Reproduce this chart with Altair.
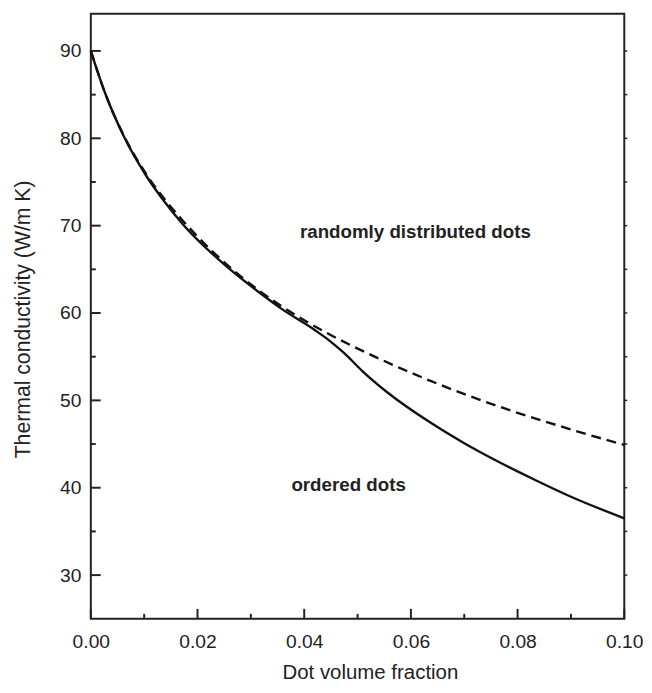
import altair as alt
import pandas as pd

# ---- data ----
ordered_x = [0, 0.0026, 0.0062, 0.0105, 0.014, 0.0172, 0.0255, 0.0319, 0.0357, 0.0421,
             0.0446, 0.0475, 0.051, 0.0555, 0.0638, 0.07, 0.0765, 0.083, 0.09, 0.1]
ordered_y = [90, 85.3, 80.2, 75.6, 72.6, 70.2, 65.3, 62.2, 60.5, 58.0,
             56.9, 55.4, 53.3, 50.96, 47.4, 45.1, 42.95, 40.97, 38.97, 36.5]

random_x = [0, 0.0026, 0.0062, 0.0105, 0.014, 0.0172, 0.0281, 0.0357, 0.0446, 0.0529,
            0.0638, 0.0765, 0.0893, 0.1]
random_y = [90, 85.3, 80.3, 75.8, 72.9, 70.6, 64.2, 60.8, 57.6, 55.1,
            52.2, 49.3, 46.8, 44.9]

x_major = [0, 0.02, 0.04, 0.06, 0.08, 0.1]
x_minor = [0.01, 0.03, 0.05, 0.07, 0.09]
y_major = [30, 40, 50, 60, 70, 80, 90]
y_minor = [35, 45, 55, 65, 75, 85]
y_right = [30, 35, 40, 45, 50, 55, 60, 65, 70, 75, 80, 85, 90]

ann_label = ["randomly distributed dots", "ordered dots"]
ann_x = [0.0392, 0.0376]
ann_y = [68.6, 39.6]

FONT = "Liberation Sans"
INK = "#222222"
W, H = 541, 613.6

ordered = pd.DataFrame({"x": ordered_x, "y": ordered_y})
random_ = pd.DataFrame({"x": random_x, "y": random_y})
ann = pd.DataFrame({"x": ann_x, "y": ann_y, "label": ann_label})

xscale = alt.Scale(domain=[0, 0.1], nice=False, zero=False)
yscale = alt.Scale(domain=[25, 94.26], nice=False, zero=False)

xaxis = alt.Axis(title="Dot volume fraction", values=x_major, format=".2f",
                 labelFlush=False, domain=False, ticks=False, tickSize=0, grid=False,
                 labelFontSize=19.5, labelPadding=14, labelColor=INK, labelFont=FONT,
                 titleFontSize=20.7, titleFontWeight="normal", titleColor=INK, titleFont=FONT,
                 titleX=283, titleY=61, titleBaseline="alphabetic", titleAlign="center")
yaxis = alt.Axis(title="Thermal conductivity (W/m K)", values=y_major, format="d",
                 domain=False, ticks=False, tickSize=0, grid=False,
                 labelFontSize=19.5, labelPadding=10, labelColor=INK, labelFont=FONT,
                 titleFontSize=21.5, titleFontWeight="normal", titleColor=INK, titleFont=FONT,
                 titleX=-68, titleY=309.5, titleAngle=270, titleBaseline="middle",
                 titleAlign="center")

solid = alt.Chart(ordered).mark_line(color="#111111", strokeWidth=2.4, interpolate="monotone").encode(
    x=alt.X("x:Q", scale=xscale, axis=xaxis),
    y=alt.Y("y:Q", scale=yscale, axis=yaxis),
)
dashed = alt.Chart(random_).mark_line(color="#111111", strokeWidth=2.4, strokeDash=[10, 6],
                                      interpolate="monotone").encode(
    x=alt.X("x:Q", scale=xscale),
    y=alt.Y("y:Q", scale=yscale),
)

texts = alt.Chart(ann).mark_text(font=FONT, fontSize=19, fontWeight="bold", color=INK,
                                 align="left", baseline="alphabetic").encode(
    x=alt.X("x:Q", scale=xscale),
    y=alt.Y("y:Q", scale=yscale),
    text="label:N",
)


def xticks(vals, length):
    return alt.Chart(pd.DataFrame({"x": vals})).mark_rule(color=INK, strokeWidth=2).encode(
        x=alt.X("x:Q", scale=xscale),
        y=alt.value(H),
        y2=alt.value(H - length),
    )


def yticks(vals, length):
    return alt.Chart(pd.DataFrame({"y": vals})).mark_rule(color=INK, strokeWidth=2).encode(
        y=alt.Y("y:Q", scale=yscale),
        x=alt.value(0),
        x2=alt.value(length),
    )


right_ticks = alt.Chart(pd.DataFrame({"y": y_right})).mark_rule(color=INK, strokeWidth=1.5).encode(
    y=alt.Y("y:Q", scale=yscale),
    x=alt.value(W),
    x2=alt.value(W + 3),
)

chart = alt.layer(
    solid, dashed,
    xticks(x_major, 10), xticks(x_minor, 5), yticks(y_major, 10), yticks(y_minor, 5),
    right_ticks, texts,
).properties(
    width=W, height=H,
    autosize=alt.AutoSizeParams(type="none"),
    padding={"left": 84, "top": 1, "right": 20, "bottom": 66},
    background="white",
).configure(font=FONT).configure_view(stroke=INK, strokeWidth=2)

chart.save("out.html", embed_options={"renderer": "svg", "actions": False})
